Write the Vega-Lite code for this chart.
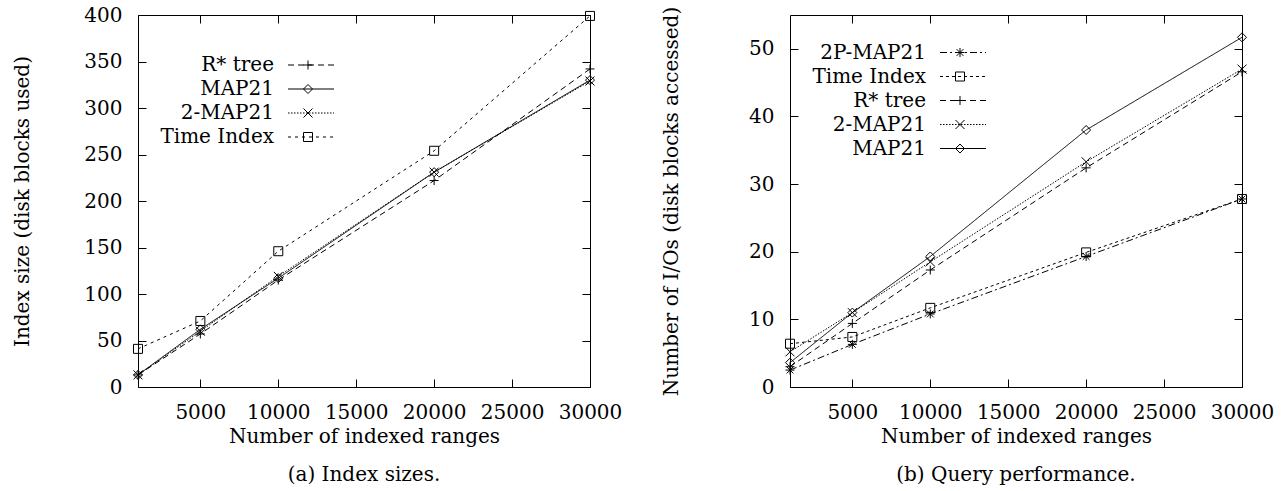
{
  "$schema": "https://vega.github.io/schema/vega-lite/v6.json",
  "background": "white",
  "padding": {"left": 11, "top": 4, "right": 0, "bottom": 0},
  "bounds": "flush",
  "spacing": 200,
  "datasets": {
    "size": [
      {"series": "R* tree", "x": 1000, "y": 13}, {"series": "R* tree", "x": 5000, "y": 57}, {"series": "R* tree", "x": 10000, "y": 115}, {"series": "R* tree", "x": 20000, "y": 222}, {"series": "R* tree", "x": 30000, "y": 342},
      {"series": "MAP21", "x": 1000, "y": 13}, {"series": "MAP21", "x": 5000, "y": 62}, {"series": "MAP21", "x": 10000, "y": 117}, {"series": "MAP21", "x": 20000, "y": 231}, {"series": "MAP21", "x": 30000, "y": 330},
      {"series": "2-MAP21", "x": 1000, "y": 13}, {"series": "2-MAP21", "x": 5000, "y": 60}, {"series": "2-MAP21", "x": 10000, "y": 119}, {"series": "2-MAP21", "x": 20000, "y": 231}, {"series": "2-MAP21", "x": 30000, "y": 329},
      {"series": "Time Index", "x": 1000, "y": 41}, {"series": "Time Index", "x": 5000, "y": 71}, {"series": "Time Index", "x": 10000, "y": 146}, {"series": "Time Index", "x": 20000, "y": 254}, {"series": "Time Index", "x": 30000, "y": 399}
    ],
    "io": [
      {"series": "2P-MAP21", "x": 1000, "y": 2.5}, {"series": "2P-MAP21", "x": 5000, "y": 6.3}, {"series": "2P-MAP21", "x": 10000, "y": 10.8}, {"series": "2P-MAP21", "x": 20000, "y": 19.3}, {"series": "2P-MAP21", "x": 30000, "y": 27.8},
      {"series": "Time Index", "x": 1000, "y": 6.4}, {"series": "Time Index", "x": 5000, "y": 7.4}, {"series": "Time Index", "x": 10000, "y": 11.7}, {"series": "Time Index", "x": 20000, "y": 19.9}, {"series": "Time Index", "x": 30000, "y": 27.8},
      {"series": "R* tree", "x": 1000, "y": 3.0}, {"series": "R* tree", "x": 5000, "y": 9.4}, {"series": "R* tree", "x": 10000, "y": 17.3}, {"series": "R* tree", "x": 20000, "y": 32.4}, {"series": "R* tree", "x": 30000, "y": 46.6},
      {"series": "2-MAP21", "x": 1000, "y": 5.2}, {"series": "2-MAP21", "x": 5000, "y": 11.0}, {"series": "2-MAP21", "x": 10000, "y": 18.5}, {"series": "2-MAP21", "x": 20000, "y": 33.3}, {"series": "2-MAP21", "x": 30000, "y": 47.0},
      {"series": "MAP21", "x": 1000, "y": 3.6}, {"series": "MAP21", "x": 5000, "y": 11.0}, {"series": "MAP21", "x": 10000, "y": 19.3}, {"series": "MAP21", "x": 20000, "y": 38.0}, {"series": "MAP21", "x": 30000, "y": 51.7}
    ]
  },
  "config": {
    "font": "DejaVu Serif",
    "view": {"stroke": "black", "strokeWidth": 1},
    "axis": {
      "grid": false, "domain": false,
      "tickColor": "black", "tickSize": -8, "tickWidth": 1,
      "labelFont": "DejaVu Serif", "labelFontSize": 20, "labelColor": "black",
      "titleFont": "DejaVu Serif", "titleFontSize": 20, "titleFontWeight": "normal", "titleColor": "black",
      "labelFlush": false, "labelOverlap": false, "format": "d"
    },
    "legend": {
      "title": null, "orient": "none", "padding": 0, "rowPadding": 4,
      "labelFont": "DejaVu Serif", "labelFontSize": 20, "labelColor": "black", "labelLimit": 0,
      "labelAlign": "right", "symbolStrokeColor": "black", "symbolStrokeWidth": 1, "symbolFillColor": "transparent"
    },
    "title": {"font": "DejaVu Serif", "fontSize": 20, "fontWeight": "normal", "color": "black", "orient": "bottom", "frame": "group", "anchor": "middle"}
  },
  "resolve": {
    "scale": {"x": "independent", "y": "independent", "shape": "independent", "strokeDash": "independent"},
    "legend": {"shape": "independent", "strokeDash": "independent"}
  },
  "hconcat": [
    {
      "width": 452, "height": 372,
      "title": {"text": "(a) Index sizes.", "offset": 19},
      "data": {"name": "size"},
      "layer": [
        {
          "mark": {"type": "line", "color": "black", "strokeWidth": 1},
          "encoding": {
            "x": {"field": "x", "type": "quantitative", "scale": {"domain": [1000, 30000], "nice": false, "zero": false},
                  "axis": {"orient": "bottom", "values": [5000, 10000, 15000, 20000, 25000, 30000], "title": "Number of indexed ranges", "labelPadding": 23, "titlePadding": 4}},
            "y": {"field": "y", "type": "quantitative", "scale": {"domain": [0, 400], "nice": false},
                  "axis": {"orient": "left", "values": [0, 50, 100, 150, 200, 250, 300, 350, 400], "title": "Index size (disk blocks used)", "labelPadding": 24, "titleX": -116, "titleY": 186, "titleBaseline": "middle"}},
            "strokeDash": {"field": "series", "type": "nominal", "sort": ["R* tree", "MAP21", "2-MAP21", "Time Index"],
                  "scale": {"range": [[6, 4], [1, 0], [1.5, 1.5], [3, 4]]},
                  "legend": {"legendX": 150, "legendY": 40, "symbolType": "M-2.42,0H2.42", "symbolSize": 361, "symbolOffset": 13, "labelOffset": -47}}
          }
        },
        {
          "mark": {"type": "point", "filled": false, "color": "black", "size": 81, "strokeWidth": 1, "opacity": 1},
          "encoding": {
            "x": {"field": "x", "type": "quantitative", "scale": {"domain": [1000, 30000], "nice": false, "zero": false},
                  "axis": {"orient": "top", "values": [5000, 10000, 15000, 20000, 25000, 30000], "labels": false, "title": null}},
            "y": {"field": "y", "type": "quantitative", "scale": {"domain": [0, 400], "nice": false},
                  "axis": {"orient": "right", "values": [0, 50, 100, 150, 200, 250, 300, 350, 400], "labels": false, "title": null}},
            "shape": {"field": "series", "type": "nominal",
                  "scale": {"domain": ["R* tree", "MAP21", "2-MAP21", "Time Index"], "range": ["M-1,0H1M0,-1V1", "diamond", "M-1,-1L1,1M-1,1L1,-1", "square"]},
                  "legend": {"legendX": 150, "legendY": 40, "symbolSize": 81, "symbolOffset": 10, "labelOffset": -47, "labelExpr": "''"}}
          }
        }
      ]
    },
    {
      "width": 452, "height": 372,
      "title": {"text": "(b) Query performance.", "offset": 19},
      "data": {"name": "io"},
      "layer": [
        {
          "mark": {"type": "line", "color": "black", "strokeWidth": 1},
          "encoding": {
            "x": {"field": "x", "type": "quantitative", "scale": {"domain": [1000, 30000], "nice": false, "zero": false},
                  "axis": {"orient": "bottom", "values": [5000, 10000, 15000, 20000, 25000, 30000], "title": "Number of indexed ranges", "labelPadding": 23, "titlePadding": 4}},
            "y": {"field": "y", "type": "quantitative", "scale": {"domain": [0, 55], "nice": false},
                  "axis": {"orient": "left", "values": [0, 10, 20, 30, 40, 50], "title": "Number of I/Os (disk blocks accessed)", "labelPadding": 24, "titleX": -119, "titleY": 186, "titleBaseline": "middle"}},
            "strokeDash": {"field": "series", "type": "nominal", "sort": ["2P-MAP21", "Time Index", "R* tree", "2-MAP21", "MAP21"],
                  "scale": {"range": [[7, 3, 2, 3], [3, 3], [6, 4], [1.5, 1.5], [1, 0]]},
                  "legend": {"legendX": 150, "legendY": 27.5, "symbolType": "M-2.42,0H2.42", "symbolSize": 361, "symbolOffset": 13, "labelOffset": -47}}
          }
        },
        {
          "mark": {"type": "point", "filled": false, "color": "black", "size": 81, "strokeWidth": 1, "opacity": 1},
          "encoding": {
            "x": {"field": "x", "type": "quantitative", "scale": {"domain": [1000, 30000], "nice": false, "zero": false},
                  "axis": {"orient": "top", "values": [5000, 10000, 15000, 20000, 25000, 30000], "labels": false, "title": null}},
            "y": {"field": "y", "type": "quantitative", "scale": {"domain": [0, 55], "nice": false},
                  "axis": {"orient": "right", "values": [0, 10, 20, 30, 40, 50], "labels": false, "title": null}},
            "shape": {"field": "series", "type": "nominal",
                  "scale": {"domain": ["2P-MAP21", "Time Index", "R* tree", "2-MAP21", "MAP21"], "range": ["M-1,0H1M0,-1V1M-0.75,-0.75L0.75,0.75M-0.75,0.75L0.75,-0.75", "square", "M-1,0H1M0,-1V1", "M-1,-1L1,1M-1,1L1,-1", "diamond"]},
                  "legend": {"legendX": 150, "legendY": 27.5, "symbolSize": 81, "symbolOffset": 10, "labelOffset": -47, "labelExpr": "''"}}
          }
        }
      ]
    }
  ]
}
